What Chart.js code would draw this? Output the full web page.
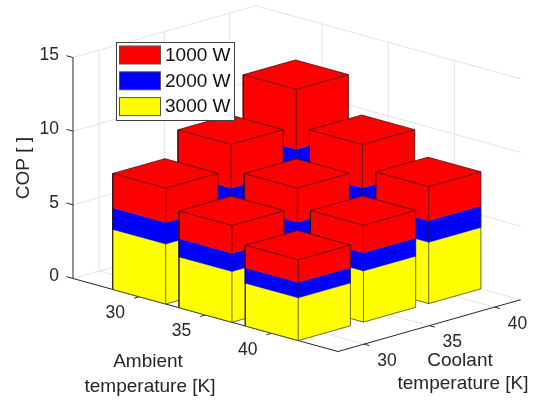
<!DOCTYPE html>
<html>
<head>
<meta charset="utf-8">
<style>
	html, body { margin: 0; padding: 0; background: #fff; }
	canvas { display: block; }
</style>
<script src="https://cdn.jsdelivr.net/npm/chart.js@4/dist/chart.umd.js"></script>
</head>
<body>
<canvas id="copChart" width="533" height="401"></canvas>
<script>
const ambientTicks = [30, 35, 40];
const coolantTicks = [30, 35, 40];
const copTicks = [0, 5, 10, 15];

// rows = ambient 30/35/40, columns = coolant 30/35/40
const cop3000 = [
	[4.07, 4.87, 5.87],
	[3.45, 4.07, 4.87],
	[2.9, 3.47, 4.16],
];
const cop2000 = [
	[1.47, 1.75, 2.12],
	[1.24, 1.47, 1.75],
	[1.06, 1.24, 1.47],
];
const cop1000 = [
	[2.33, 2.96, 4.07],
	[1.88, 2.31, 2.94],
	[1.52, 1.86, 2.31],
];

const seriesNames = ['1000 W', '2000 W', '3000 W'];
const seriesColors = ['#ff0000', '#0000ff', '#ffff00'];

const ambientRange = [25, 45];
const coolantRange = [28, 42];
const barHalf = 2;

const inkColor = '#262626';
const gridColor = '#e3e3e3';
const edgeColor = 'rgba(20,20,20,0.62)';

// oblique projection of (ambient, coolant, COP) onto the two chart scales
function project(a, c, z) {
	const da = a - ambientRange[0];
	const dc = c - coolantRange[0];
	return { x: da + dc * 0.985, y: z - da * 0.248 + dc * 0.2512 };
}

const datasets = [];

function addLine(points, color, width) {
	datasets.push({
		data: points.map((p) => project(p[0], p[1], p[2])),
		showLine: true,
		borderColor: color,
		borderWidth: width,
		pointRadius: 0,
		fill: false,
		tension: 0,
		clip: false,
	});
}

function addFace(points, color) {
	datasets.push({
		data: points.concat([points[0]]).map((p) => project(p[0], p[1], p[2])),
		showLine: true,
		borderColor: color,
		borderWidth: 0.4,
		backgroundColor: color,
		pointRadius: 0,
		fill: 'shape',
		tension: 0,
		clip: false,
	});
}

function addGrid() {
	const [a0, a1] = ambientRange;
	const [c0, c1] = coolantRange;
	const zTop = copTicks[copTicks.length - 1];
	copTicks.forEach((z) => addLine([[a0, c0, z], [a0, c1, z], [a1, c1, z]], gridColor, 1));
	ambientTicks.forEach((a) => {
		addLine([[a, c1, 0], [a, c1, zTop]], gridColor, 1);
		addLine([[a, c0, 0], [a, c1, 0]], gridColor, 1);
	});
	coolantTicks.forEach((c) => {
		addLine([[a0, c, 0], [a0, c, zTop]], gridColor, 1);
		addLine([[a0, c, 0], [a1, c, 0]], gridColor, 1);
	});
}

function addAxes() {
	const [a0, a1] = ambientRange;
	const [c0, c1] = coolantRange;
	const zTop = copTicks[copTicks.length - 1];
	addLine([[a0, c0, 0], [a0, c0, zTop]], inkColor, 1);
	addLine([[a0, c0, 0], [a1, c0, 0], [a1, c1, 0]], inkColor, 1);
	copTicks.forEach((z) => addLine([[a0, c0, z], [a0 - 0.5, c0, z]], inkColor, 1));
	ambientTicks.forEach((a) => addLine([[a, c0, 0], [a, c0 - 0.4, 0]], inkColor, 1));
	coolantTicks.forEach((c) => addLine([[a1, c, 0], [a1 + 0.4, c, 0]], inkColor, 1));
}

function addBar(i, j) {
	const a = ambientTicks[i];
	const c = coolantTicks[j];
	const aL = a - barHalf;
	const aR = a + barHalf;
	const cL = c - barHalf;
	const cR = c + barHalf;
	let base = 0;
	// yellow sits at the bottom of the stack, red on top
	[[cop3000, seriesColors[2]], [cop2000, seriesColors[1]], [cop1000, seriesColors[0]]].forEach(([vals, color]) => {
		const top = base + vals[i][j];
		addFace([[aL, cL, base], [aR, cL, base], [aR, cL, top], [aL, cL, top]], color);
		addFace([[aR, cL, base], [aR, cR, base], [aR, cR, top], [aR, cL, top]], color);
		base = top;
	});
	addFace([[aL, cL, base], [aR, cL, base], [aR, cR, base], [aL, cR, base]], seriesColors[0]);
	addLine([[aL, cL, base], [aR, cL, base], [aR, cR, base], [aL, cR, base], [aL, cL, base]], edgeColor, 1);
	addLine([[aL, cL, base], [aL, cL, 0], [aR, cL, 0], [aR, cR, 0], [aR, cR, base]], edgeColor, 1);
	addLine([[aR, cL, 0], [aR, cL, base]], edgeColor, 1);
}

addGrid();
addAxes();
ambientTicks.forEach((_, i) => {
	for (let j = coolantTicks.length - 1; j >= 0; j--) addBar(i, j);
});
// chart.js paints the highest order first
datasets.forEach((d, idx) => { d.order = datasets.length - idx; });

const sketchText = {
	id: 'sketchText',
	afterDraw(chart) {
		const { ctx, scales } = chart;
		const toPx = (a, c, z) => {
			const p = project(a, c, z);
			return [scales.x.getPixelForValue(p.x), scales.y.getPixelForValue(p.y)];
		};
		ctx.save();
		ctx.textAlign = 'center';
		ctx.textBaseline = 'middle';
		ctx.fillStyle = inkColor;

		ctx.font = '17.5px "Liberation Sans", Arial, sans-serif';
		ambientTicks.forEach((a) => {
			const [x, y] = toPx(a, coolantRange[0], 0);
			ctx.fillText(String(a), x - 24, y + 16.5);
		});
		coolantTicks.forEach((c) => {
			const [x, y] = toPx(ambientRange[1], c, 0);
			ctx.fillText(String(c), x + 23, y + 17);
		});

		ctx.font = '19px "Liberation Sans", Arial, sans-serif';
		ctx.fillText('Ambient', 148, 362);
		ctx.fillText('temperature [K]', 150, 387);
		ctx.fillText('Coolant', 460, 361);
		ctx.fillText('temperature [K]', 463, 384);

		ctx.save();
		ctx.translate(24, 168);
		ctx.rotate(-Math.PI / 2);
		ctx.fillText('COP [ ]', 0, 0);
		ctx.restore();

		// legend box
		ctx.fillStyle = '#fff';
		ctx.fillRect(116, 42, 118, 78);
		ctx.strokeStyle = '#404040';
		ctx.lineWidth = 1;
		ctx.strokeRect(116.5, 42.5, 118, 78);
		ctx.textAlign = 'left';
		seriesNames.forEach((name, k) => {
			const top = 46 + k * 25.8;
			ctx.fillStyle = seriesColors[k];
			ctx.fillRect(119.5, top, 41, 18);
			ctx.strokeStyle = '#555';
			ctx.strokeRect(119.5, top, 41, 18);
			ctx.fillStyle = '#111';
			ctx.fillText(name, 165, top + 9.5);
		});
		ctx.restore();
	},
};

new Chart(document.getElementById('copChart').getContext('2d'), {
	type: 'scatter',
	data: { datasets },
	options: {
		responsive: false,
		animation: false,
		layout: { autoPadding: false, padding: { top: 5, right: 13, bottom: 51, left: 0 } },
		plugins: {
			legend: { display: false },
			tooltip: { enabled: false },
		},
		scales: {
			x: {
				type: 'linear',
				display: false,
				min: 0,
				max: 33.74,
			},
			y: {
				type: 'linear',
				bounds: 'data',
				// chart area ends at 24.5px at the top, wall lines run above it unclipped
				min: -4.856,
				max: 17.242,
				afterFit: (scale) => { scale.width = 73; },
				afterBuildTicks: (scale) => { scale.ticks = copTicks.map((value) => ({ value })); },
				border: { display: false },
				grid: { display: false, drawTicks: false },
				ticks: {
					color: inkColor,
					padding: 14,
					labelOffset: -2,
					font: { family: '"Liberation Sans", Arial, sans-serif', size: 17.5 },
				},
			},
		},
	},
	plugins: [sketchText],
});
</script>
</body>
</html>
